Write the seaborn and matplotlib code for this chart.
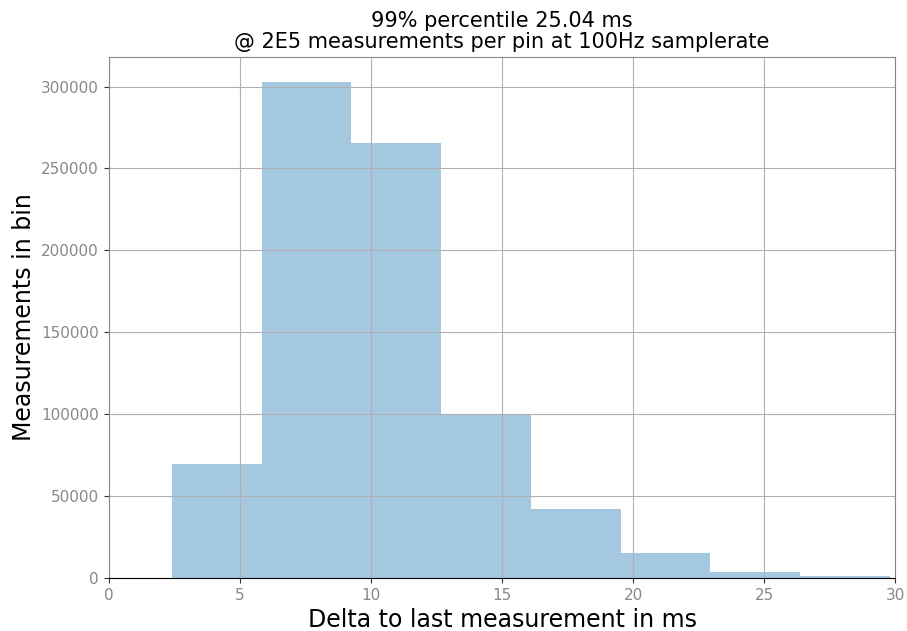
import matplotlib
matplotlib.use("Agg")
import matplotlib.pyplot as plt
import numpy as np
import pandas as pd
import seaborn as sns

# histogram bins (ms) and counts per bin
bin_edges = [2.4, 5.825, 9.25, 12.675, 16.1, 19.525, 22.95, 26.375, 29.8]
bin_counts = [69500, 303000, 265500, 100200, 42200, 15200, 3700, 1200]

title = "99% percentile 25.04 ms\n@ 2E5 measurements per pin at 100Hz samplerate"

centers = [(a + b) / 2 for a, b in zip(bin_edges[:-1], bin_edges[1:])]
df = pd.DataFrame({"delta": centers, "count": bin_counts})

fig = plt.figure(figsize=(9.07, 6.31), dpi=100)
ax = fig.add_axes([0.120, 0.084, 0.867, 0.826])

sns.histplot(
    data=df,
    x="delta",
    weights="count",
    bins=bin_edges,
    color="#1f77b4",
    alpha=0.4,
    edgecolor="none",
    linewidth=0,
    ax=ax,
)

ax.set_xlim(0, 30)
ax.set_ylim(0, 318150)
ax.grid(True, color="#b0b0b0", linewidth=0.8)
ax.set_title(title, fontsize=15, color="black", linespacing=1.1)
ax.set_xlabel("Delta to last measurement in ms", fontsize=17)
ax.set_ylabel("Measurements in bin", fontsize=17)
ax.tick_params(labelsize=11, labelcolor="#888888", colors="#333333")
for side in ["top", "right", "left"]:
    ax.spines[side].set_edgecolor("#888888")
ax.spines["bottom"].set_edgecolor("black")

fig.savefig("out.png", dpi=100)
